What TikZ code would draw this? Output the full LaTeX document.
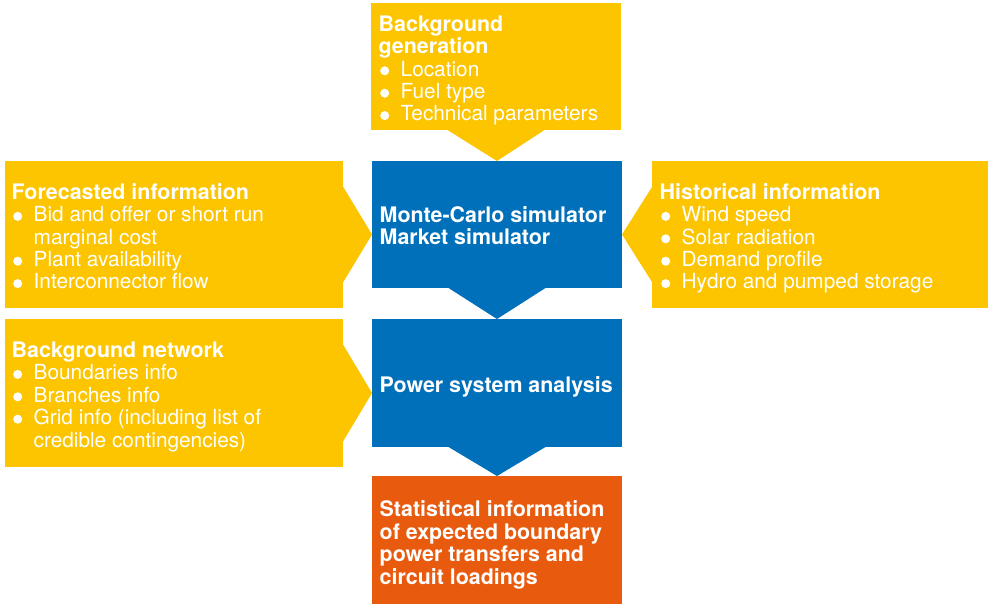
\documentclass[tikz,border=0pt]{standalone}
\usepackage{fontspec}
\setmainfont{TeX Gyre Heros}
\definecolor{ylw}{HTML}{FCC500}
\definecolor{blu}{HTML}{0070BA}
\definecolor{org}{HTML}{E85A0D}
\newcommand\bul{\hspace*{1.5pt}\makebox[20.5pt][l]{\tikz[baseline=-5.4pt]\fill[white] (0,0) circle (4.5pt);}}
\newcommand\ind{\hspace*{22pt}}
\newcommand\hb[1]{{\fontsize{21.4}{22.4}\selectfont\bfseries #1}}
\begin{document}
\begin{tikzpicture}[x=1pt,y=-1pt,
  panel/.style={inner sep=0pt, outer sep=0pt, draw=none},
  txt/.style={text=white, inner sep=0pt, anchor=base west, align=left,
    font=\fontsize{20.8}{22.4}\selectfont},
  hd/.style={txt, font=\fontsize{21.4}{22.4}\selectfont\bfseries}]
\useasboundingbox[fill=white] (0,0) rectangle (989,604);
% panels
\node[panel, fill=ylw, minimum width=250pt, minimum height=127pt] (bg) at (496,66.5) {};
\node[panel, fill=blu, minimum width=250pt, minimum height=127pt] (mc) at (497,224.5) {};
\node[panel, fill=blu, minimum width=250pt, minimum height=128pt] (psa) at (497,383) {};
\node[panel, fill=org, minimum width=250pt, minimum height=128pt] (stat) at (497,540) {};
\node[panel, fill=ylw, minimum width=338pt, minimum height=147pt] (fc) at (174,234.5) {};
\node[panel, fill=ylw, minimum width=338pt, minimum height=148pt] (bn) at (174,393) {};
\node[panel, fill=ylw, minimum width=336pt, minimum height=147pt] (hist) at (820,234.5) {};
% arrow heads
\fill[ylw] ([xshift=-48.5pt]bg.south) -- ([xshift=48.5pt]bg.south) -- (mc.north) -- cycle;
\fill[blu] ([xshift=-48.5pt]mc.south) -- ([xshift=48.5pt]mc.south) -- (psa.north) -- cycle;
\fill[blu] ([xshift=-48.5pt]psa.south) -- ([xshift=48.5pt]psa.south) -- (stat.north) -- cycle;
\fill[ylw] ([yshift=48pt]fc.east) -- ([yshift=-48pt]fc.east) -- (fc.east -| mc.west) -- cycle;
\fill[ylw] ([yshift=48.5pt]bn.east) -- ([yshift=-48.5pt]bn.east) -- (bn.east -| psa.west) -- cycle;
\fill[ylw] ([yshift=47.5pt]hist.west) -- ([yshift=-47.5pt]hist.west) -- (hist.west -| mc.east) -- cycle;
% texts (anchored at the baseline of their last line)
\node[txt] (bgt) at (378.5,121) {\hb{Background}\\\hb{generation}\\\bul Location\\\bul Fuel type\\\bul Technical parameters};
\node[txt] (fct) at (11.5,289) {\hb{Forecasted information}\\\bul Bid and offer or short run\\\ind marginal cost\\\bul Plant availability\\\bul Interconnector flow};
\node[txt] (bnt) at (11.5,447) {\hb{Background network}\\\bul Boundaries info\\\bul Branches info\\\bul Grid info (including list of\\\ind credible contingencies)};
\node[txt] (histt) at (659.5,289) {\hb{Historical information}\\\bul Wind speed\\\bul Solar radiation\\\bul Demand profile\\\bul Hydro and pumped storage};
\node[hd] (mct) at (379.5,245) {Monte-Carlo simulator\\Market simulator};
\node[hd] (psat) at (379.5,392) {Power system analysis};
\node[hd] (statt) at (379.5,584) {Statistical information\\of expected boundary\\power transfers and\\circuit loadings};
\end{tikzpicture}
\end{document}
